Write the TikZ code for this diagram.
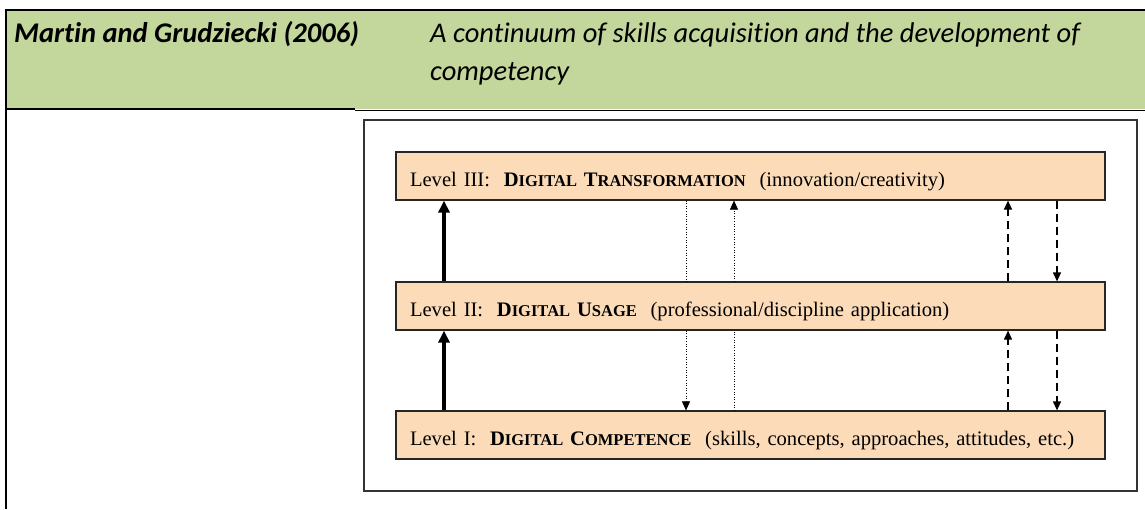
\documentclass[tikz,border=0pt]{standalone}
\usepackage{fontspec}
\setmainfont{Liberation Serif}
\newfontfamily\hdrfont{Carlito}[Ligatures=NoCommon]
\usetikzlibrary{arrows.meta}

\definecolor{hdrgreen}{RGB}{195,214,155}
\definecolor{boxpeach}{RGB}{252,219,185}

% small caps made by hand (Liberation Serif has none)
\newcommand{\fsc}[2]{#1{\fontsize{16.5}{20}\selectfont #2}}

\begin{document}
\begin{tikzpicture}[x=1pt,y=-1pt,
  hdr/.style={inner sep=0pt,anchor=base west,align=left,font=\hdrfont\fontsize{28.5}{38}\selectfont\itshape},
  level/.style={draw=black!85,line width=1.2pt,fill=boxpeach,minimum height=48pt,
    text height=34pt,text depth=14pt,inner ysep=0pt,
    text width=681pt,inner xsep=14pt,align=left,font=\fontsize{20.6}{24}\selectfont},
  bold/.style={line width=4pt,-{Triangle[length=12pt,width=11pt]}},
  dots/.style={line width=0.6pt,dotted,-{Triangle[length=9pt,width=8pt]}},
  dashes/.style={line width=1.2pt,dash pattern=on 8pt off 5pt,-{Triangle[length=9pt,width=8pt]}}]
  \useasboundingbox (0,0) rectangle (1145,509);

  % table header
  \fill[hdrgreen] (7,11) rectangle (1145,109);
  \draw[line width=2pt] (6,509) -- (6,10) -- (1145,10);
  \draw[line width=2pt] (5,109) -- (355,109);
  \draw[line width=1pt] (355,110) -- (1145,110);

  \node[hdr,font=\hdrfont\fontsize{28.5}{38}\selectfont\bfseries\itshape] (authors) at (14,42) {Martin and Grudziecki (2006)};
  \node[hdr] (caption) at (430,80) {A continuum of skills acquisition and the development of\\competency};

  % figure frame
  \draw[black!80,line width=1.5pt] (364,120) rectangle (1137,491);

  \node[level] (lvlthree) at (750.5,176) {Level III:\ \ \textbf{\fsc{D}{IGITAL} \fsc{T}{RANSFORMATION}}\ \ (innovation/creativity)};
  \node[level] (lvltwo) at (750.5,306) {Level II:\ \ \textbf{\fsc{D}{IGITAL} \fsc{U}{SAGE}}\ \ (professional/discipline application)};
  \node[level] (lvlone) at (750.5,435) {Level I:\ \ \textbf{\fsc{D}{IGITAL} \fsc{C}{OMPETENCE}}\ \ (skills, concepts, approaches, attitudes, etc.)};

  \coordinate (colA) at (444,0);
  \coordinate (colB) at (686,0);
  \coordinate (colC) at (734,0);
  \coordinate (colD) at (1008,0);
  \coordinate (colE) at (1057,0);

  % arrows between levels
  \draw[bold] (lvlone.north -| colA) -- (lvltwo.south -| colA);
  \draw[bold] (lvltwo.north -| colA) -- (lvlthree.south -| colA);

  \draw[dots,-] (lvlthree.south -| colB) -- (lvltwo.north -| colB);
  \draw[dots] (lvltwo.south -| colB) -- (lvlone.north -| colB);
  \draw[dots,-] (lvlone.north -| colC) -- (lvltwo.south -| colC);
  \draw[dots] (lvltwo.north -| colC) -- (lvlthree.south -| colC);

  \draw[dashes] (lvlone.north -| colD) -- (lvltwo.south -| colD);
  \draw[dashes] (lvltwo.north -| colD) -- (lvlthree.south -| colD);
  \draw[dashes] (lvlthree.south -| colE) -- (lvltwo.north -| colE);
  \draw[dashes] (lvltwo.south -| colE) -- (lvlone.north -| colE);
\end{tikzpicture}
\end{document}
